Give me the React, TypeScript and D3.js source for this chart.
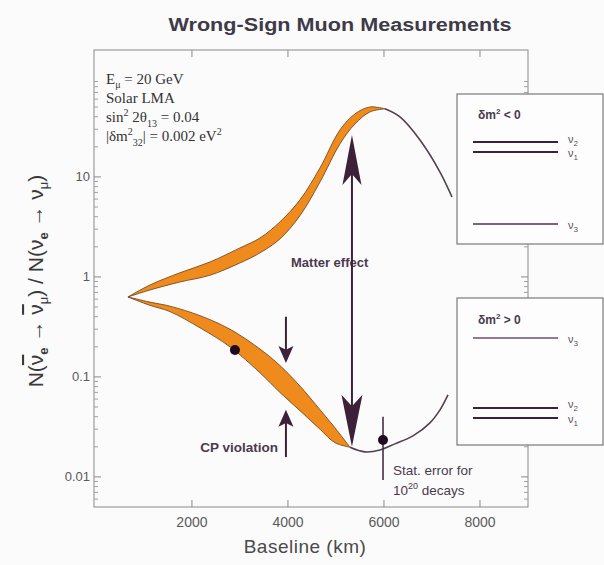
import React from "react";
import * as d3 from "d3";

const W = 604;
const H = 565;

// Axis ticks
const xTicks = [2000, 4000, 6000, 8000];
const xTickLabels = ["2000", "4000", "6000", "8000"];
const yTicks = [0.01, 0.1, 1, 10];
const yTickLabels = ["0.01", "0.1", "1", "10"];

// Upper (matter-enhanced) band: baseline km, band top / bottom ratio
const upperBandL = [667, 1125, 1750, 2375, 3000, 3417, 3833, 4250, 4667, 5083, 5396, 5708, 6021];
const upperBandHigh = [0.63, 0.83, 1.1, 1.41, 1.95, 2.45, 3.55, 5.9, 12.3, 29.5, 42.7, 50.1, 48];
const upperBandLow = [0.63, 0.74, 0.89, 1.04, 1.38, 1.74, 2.4, 4.1, 8.9, 21.4, 33.9, 44.7, 48];
// Upper tail (single curve)
const upperTailL = [6021, 6333, 6750, 7167, 7417];
const upperTailV = [48, 39.8, 23.4, 11.2, 6.3];

// Lower (matter-suppressed) band
const lowerBandL = [667, 1125, 1542, 2167, 2792, 3417, 3833, 4250, 4667, 4979, 5292];
const lowerBandHigh = [0.63, 0.56, 0.51, 0.41, 0.3, 0.19, 0.13, 0.081, 0.047, 0.031, 0.0198];
const lowerBandLow = [0.63, 0.52, 0.45, 0.31, 0.2, 0.11, 0.07, 0.046, 0.03, 0.022, 0.0198];
// Lower tail
const lowerTailL = [5292, 5604, 5917, 6229, 6604, 6958, 7167, 7333];
const lowerTailV = [0.0198, 0.0178, 0.0186, 0.0214, 0.0257, 0.0347, 0.0468, 0.066];

// Points
const dotL = [2896, 5980];
const dotV = [0.186, 0.0234];
const errBarL = 5980;
const errBarV = [0.04, 0.0093];

// Arrows
const matterArrowL = 5333;
const matterArrowV = [26.3, 0.02];
const cpArrowL = 3958;
const cpDownV = [0.4, 0.138];
const cpUpV = [0.0158, 0.047];

const x = d3.scaleLinear().domain([-40, 9000]).range([94, 528]);
const y = d3.scaleLog().domain([0.005, 186]).range([507, 50]);

const ORANGE = "#ef8b1c";
const DARK = "#3d2138";
const LINE = "#524050";
const TEXT = "#4a3a4e";

function arrowHead(tx: number, ty: number, up: boolean, len: number, w: number) {
  const s = up ? 1 : -1;
  return `M${tx},${ty} L${tx + w / 2},${ty + s * len} L${tx},${ty + s * len * 0.78} L${tx - w / 2},${ty + s * len} Z`;
}

export default function App() {
  const curve = d3.curveCatmullRom.alpha(0.5);
  const idx = (arr: number[]) => arr.map((_, i) => i);

  const upperArea = d3
    .area<number>()
    .x((i) => x(upperBandL[i]))
    .y0((i) => y(upperBandLow[i]))
    .y1((i) => y(upperBandHigh[i]))
    .curve(curve)(idx(upperBandL)) as string;
  const lowerArea = d3
    .area<number>()
    .x((i) => x(lowerBandL[i]))
    .y0((i) => y(lowerBandLow[i]))
    .y1((i) => y(lowerBandHigh[i]))
    .curve(curve)(idx(lowerBandL)) as string;

  const mkLine = (L: number[], V: number[]) =>
    d3
      .line<number>()
      .x((i) => x(L[i]))
      .y((i) => y(V[i]))
      .curve(curve)(idx(L)) as string;

  const edges = [
    mkLine(upperBandL, upperBandHigh),
    mkLine(upperBandL, upperBandLow),
    mkLine(lowerBandL, lowerBandHigh),
    mkLine(lowerBandL, lowerBandLow),
  ];
  const tails = [mkLine(upperTailL, upperTailV), mkLine(lowerTailL, lowerTailV)];

  // minor y ticks
  const minor: number[] = [];
  for (let d = -3; d <= 2; d++) {
    for (let k = 2; k <= 9; k++) {
      const v = k * Math.pow(10, d);
      if (v > 0.005 && v < 186) minor.push(v);
    }
  }

  const x0 = 94, x1 = 528, y0 = 50, y1 = 507;
  const sans = "'Liberation Sans', Arial, sans-serif";
  const serif = "'Liberation Serif', 'Times New Roman', serif";

  const mxA = x(matterArrowL);
  const mTop = y(matterArrowV[0]);
  const mBot = y(matterArrowV[1]);
  const cx = x(cpArrowL);

  const panel1Y = 94, panel2Y = 298, panelX = 457, panelW = 146, panelH = 150;
  const bar = { textDecoration: "overline" } as React.CSSProperties;

  return (
    <svg width={W} height={H} style={{ position: "absolute", left: 0, top: 0, background: "#fbfbfb" }}>
      <rect x={0} y={0} width={W} height={H} fill="#fbfbfb" />
      {/* title */}
      <text x={340} y={31} textAnchor="middle" fontFamily={sans} fontWeight="bold" fontSize={18} fill="#3e3a48" textLength={343} lengthAdjust="spacingAndGlyphs">
        Wrong-Sign Muon Measurements
      </text>

      {/* frame */}
      <rect x={x0} y={y0} width={x1 - x0} height={y1 - y0} fill="none" stroke="#8a8a8a" strokeWidth={1} />
      {/* x ticks */}
      {xTicks.map((t, i) => (
        <g key={"xt" + i}>
          <line x1={x(t)} x2={x(t)} y1={y1} y2={y1 - 7} stroke="#8a8a8a" />
          <line x1={x(t)} x2={x(t)} y1={y0} y2={y0 + 7} stroke="#8a8a8a" />
          <text x={x(t)} y={y1 + 20} textAnchor="middle" fontFamily={sans} fontSize={14} fill="#5a5a5a">
            {xTickLabels[i]}
          </text>
        </g>
      ))}
      {/* y ticks */}
      {yTicks.map((t, i) => (
        <g key={"yt" + i}>
          <line x1={x0} x2={x0 + 7} y1={y(t)} y2={y(t)} stroke="#8a8a8a" />
          <line x1={x1} x2={x1 - 7} y1={y(t)} y2={y(t)} stroke="#8a8a8a" />
          <text x={x0 - 4} y={y(t) + 4} textAnchor="end" fontFamily={sans} fontSize={13} fill="#5a5a5a">
            {yTickLabels[i]}
          </text>
        </g>
      ))}
      {minor.map((t, i) => (
        <g key={"ym" + i}>
          <line x1={x0} x2={x0 + 4} y1={y(t)} y2={y(t)} stroke="#a0a0a0" />
          <line x1={x1} x2={x1 - 4} y1={y(t)} y2={y(t)} stroke="#a0a0a0" />
        </g>
      ))}

      {/* axis titles */}
      <text x={305} y={553} textAnchor="middle" fontFamily={sans} fontSize={19} fill="#4a4a4a" letterSpacing={0.5}>
        Baseline  (km)
      </text>
      <text transform="translate(43,281) rotate(-90)" textAnchor="middle" fontFamily={sans} fontSize={21} fill="#3a3a3a">
        N(<tspan style={bar}>ν</tspan>
        <tspan dy={5} fontSize={13} fontWeight="bold">e</tspan>
        <tspan dy={-5}> → </tspan>
        <tspan style={bar}>ν</tspan>
        <tspan dy={5} fontSize={13}>μ</tspan>
        <tspan dy={-5}>) / N(ν</tspan>
        <tspan dy={5} fontSize={13} fontWeight="bold">e</tspan>
        <tspan dy={-5}> → ν</tspan>
        <tspan dy={5} fontSize={13}>μ</tspan>
        <tspan dy={-5}>)</tspan>
      </text>

      {/* parameter text */}
      <g fontFamily={serif} fontSize={15} fill="#333">
        <text x={106} y={84}>
          E<tspan dy={4} fontSize={10}>μ</tspan>
          <tspan dy={-4}> = 20 GeV</tspan>
        </text>
        <text x={106} y={103}>Solar LMA</text>
        <text x={106} y={122}>
          sin<tspan dy={-6} fontSize={10}>2</tspan>
          <tspan dy={6}> 2θ</tspan>
          <tspan dy={5} fontSize={10}>13</tspan>
          <tspan dy={-5}> = 0.04</tspan>
        </text>
        <text x={106} y={141}>
          |δm<tspan dy={-6} fontSize={10}>2</tspan>
          <tspan dy={11} fontSize={10}>32</tspan>
          <tspan dy={-5}>| = 0.002 eV</tspan>
          <tspan dy={-6} fontSize={10}>2</tspan>
        </text>
      </g>

      {/* bands */}
      <path d={upperArea} fill={ORANGE} />
      <path d={lowerArea} fill={ORANGE} />
      {edges.map((d, i) => (
        <path key={"e" + i} d={d} fill="none" stroke="#7a4a24" strokeWidth={0.9} />
      ))}
      {tails.map((d, i) => (
        <path key={"t" + i} d={d} fill="none" stroke={LINE} strokeWidth={1.6} />
      ))}

      {/* Matter effect */}
      <text x={291} y={267} fontFamily={sans} fontWeight="bold" fontSize={13} fill={TEXT}>
        Matter effect
      </text>
      <line x1={mxA} x2={mxA} y1={mTop + 30} y2={mBot - 30} stroke={DARK} strokeWidth={2} />
      <path d={arrowHead(mxA, mTop, true, 50, 19)} fill={DARK} />
      <path d={arrowHead(mxA, mBot, false, 52, 21)} fill={DARK} />

      {/* CP violation */}
      <line x1={cx} x2={cx} y1={y(cpDownV[0])} y2={y(cpDownV[1]) - 10} stroke={DARK} strokeWidth={2} />
      <path d={arrowHead(cx, y(cpDownV[1]), false, 17, 15)} fill={DARK} />
      <line x1={cx} x2={cx} y1={y(cpUpV[0])} y2={y(cpUpV[1]) + 10} stroke={DARK} strokeWidth={2} />
      <path d={arrowHead(cx, y(cpUpV[1]), true, 17, 15)} fill={DARK} />
      <text x={278} y={452} textAnchor="end" fontFamily={sans} fontWeight="bold" fontSize={13.5} fill={TEXT}>
        CP violation
      </text>

      {/* dots and error bar */}
      <line x1={x(errBarL)} x2={x(errBarL)} y1={y(errBarV[0])} y2={y(errBarV[1])} stroke={DARK} strokeWidth={1.5} />
      {dotL.map((l, i) => (
        <circle key={"d" + i} cx={x(l)} cy={y(dotV[i])} r={5} fill="#1e0c1e" />
      ))}
      <g fontFamily={sans} fontSize={13.5} fill={TEXT}>
        <text x={393} y={475}>Stat. error for</text>
        <text x={393} y={495}>
          10<tspan dy={-6} fontSize={9}>20</tspan>
          <tspan dy={6}> decays</tspan>
        </text>
      </g>

      {/* panel 1: dm2 < 0 */}
      <rect x={panelX} y={panel1Y} width={panelW} height={panelH} fill="#fdfdfd" stroke="#7a7a7a" strokeWidth={1.2} />
      <text x={478} y={119} fontFamily={sans} fontWeight="bold" fontSize={12} fill="#4a3a4a">
        δm<tspan dy={-5} fontSize={8}>2</tspan>
        <tspan dy={5}> &lt; 0</tspan>
      </text>
      <line x1={473} x2={558} y1={142} y2={142} stroke={DARK} strokeWidth={2.2} />
      <line x1={473} x2={558} y1={152} y2={152} stroke={DARK} strokeWidth={2.2} />
      <line x1={473} x2={558} y1={224} y2={224} stroke="#4a3048" strokeWidth={1.6} />
      <g fontFamily={sans} fontSize={11} fill="#5a5060">
        <text x={568} y={143}>ν<tspan dy={3} fontSize={8}>2</tspan></text>
        <text x={568} y={157}>ν<tspan dy={3} fontSize={8}>1</tspan></text>
        <text x={568} y={229}>ν<tspan dy={3} fontSize={8}>3</tspan></text>
      </g>

      {/* panel 2: dm2 > 0 */}
      <rect x={panelX} y={panel2Y} width={panelW} height={147} fill="#fdfdfd" stroke="#7a7a7a" strokeWidth={1.2} />
      <text x={478} y={324} fontFamily={sans} fontWeight="bold" fontSize={12} fill="#4a3a4a">
        δm<tspan dy={-5} fontSize={8}>2</tspan>
        <tspan dy={5}> &gt; 0</tspan>
      </text>
      <line x1={473} x2={558} y1={338} y2={338} stroke="#6e5068" strokeWidth={1.6} />
      <line x1={473} x2={558} y1={408} y2={408} stroke={DARK} strokeWidth={2.2} />
      <line x1={473} x2={558} y1={418} y2={418} stroke={DARK} strokeWidth={2.2} />
      <g fontFamily={sans} fontSize={11} fill="#5a5060">
        <text x={568} y={343}>ν<tspan dy={3} fontSize={8}>3</tspan></text>
        <text x={568} y={408}>ν<tspan dy={3} fontSize={8}>2</tspan></text>
        <text x={568} y={423}>ν<tspan dy={3} fontSize={8}>1</tspan></text>
      </g>
    </svg>
  );
}
